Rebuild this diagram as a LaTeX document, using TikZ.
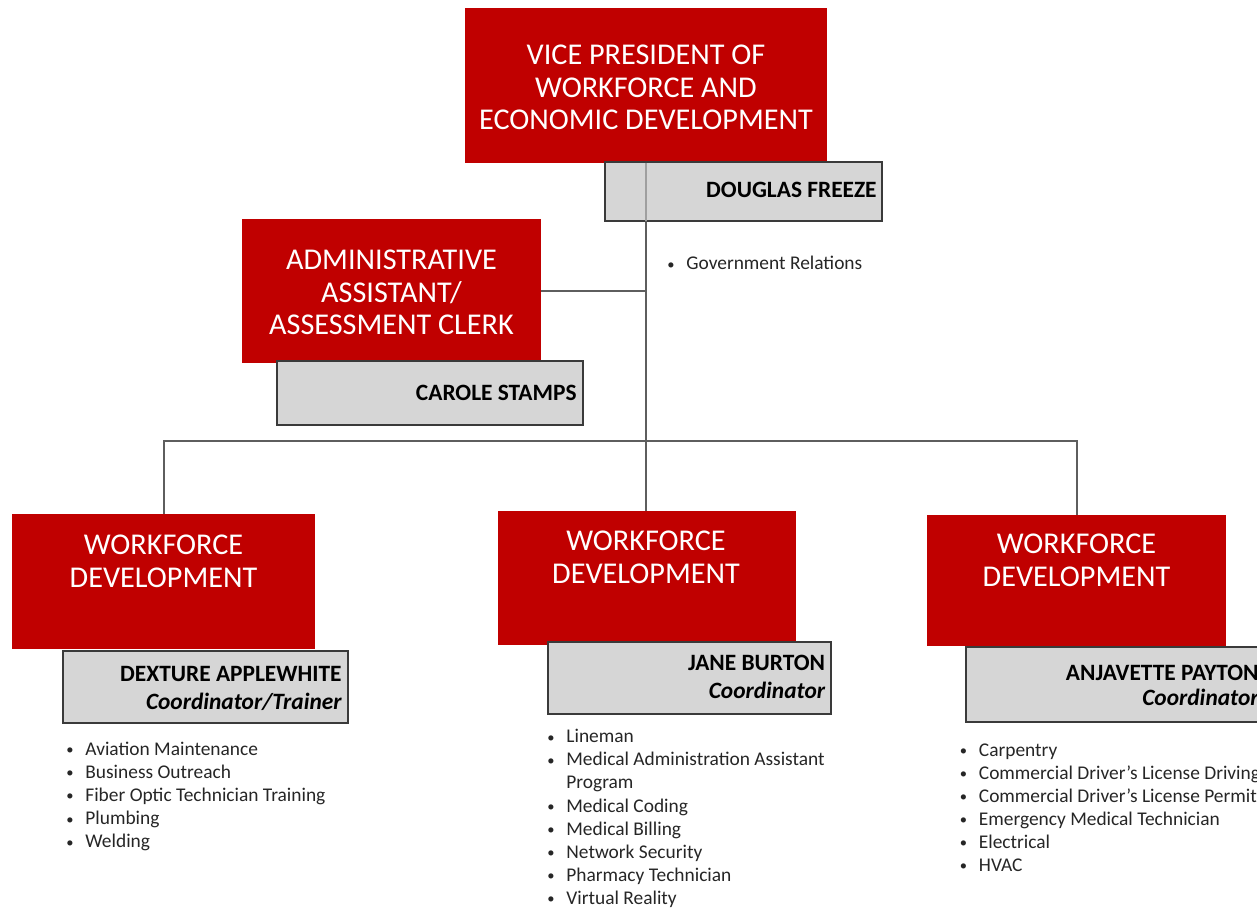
\documentclass[tikz,border=0pt]{standalone}
\usepackage{fontspec}
\setmainfont{Carlito}
\definecolor{vpred}{HTML}{C00000}
\definecolor{namegray}{HTML}{D6D6D6}
\definecolor{edgegray}{HTML}{3A3A3A}
\definecolor{linegray}{HTML}{5E5E5E}
\newcommand{\blt}{\makebox[9.5pt][l]{\raisebox{0.3pt}{\scalebox{0.75}{\textbullet}}}}
\begin{document}
\begin{tikzpicture}[x=0.5pt,y=-0.5pt,
  redbox/.style={fill=vpred, draw=none, inner sep=0pt, outer sep=0pt},
  graybox/.style={fill=namegray, draw=edgegray, line width=0.8pt, inner sep=0pt, outer sep=0pt},
  redtxt/.style={text=white, align=center, inner sep=0pt, font=\fontsize{15.1}{16.4}\selectfont},
  nametxt/.style={anchor=base east, inner sep=0pt, font=\bfseries\fontsize{11.7}{14}\selectfont},
  roletxt/.style={anchor=base east, inner sep=0pt, font=\bfseries\itshape\fontsize{11.7}{14}\selectfont},
  item/.style={anchor=base west, inner sep=0pt, text=black!85, font=\fontsize{9.7}{11.6}\selectfont},
  conn/.style={draw=linegray, line width=1pt}]
\clip (0,0) rectangle (1257,909);
\fill[white] (0,0) rectangle (1257,909);

% red title boxes
\node[redbox, minimum width=181pt, minimum height=77.5pt] (vp) at (646,85.5) {};
\node[redbox, minimum width=149.5pt, minimum height=72pt] (admin) at (391.5,291) {};
\node[redbox, minimum width=151.5pt, minimum height=67.5pt] (wf1) at (163.5,581.5) {};
\node[redbox, minimum width=149pt, minimum height=67pt] (wf2) at (647,578) {};
\node[redbox, minimum width=149.5pt, minimum height=65.5pt] (wf3) at (1076.5,580.5) {};

% connectors
\coordinate (bus) at (646,441);
\draw[conn] (admin.east) -- (admin.east -| vp.south);
\draw[conn] (wf1.north) |- (bus) -| (wf3.north);
\draw[conn] (bus) -- (bus |- wf2.north);

% gray name boxes
\node[graybox, minimum width=138.5pt, minimum height=29.5pt] (douglas) at (743.5,191.5) {};
\node[graybox, minimum width=153pt, minimum height=32pt] (carole) at (430,393) {};
\node[graybox, minimum width=142.5pt, minimum height=36pt] (dex) at (205.5,687) {};
\node[graybox, minimum width=141.5pt, minimum height=36pt] (jane) at (689.5,678) {};
\node[graybox, minimum width=149pt, minimum height=37.5pt] (anj) at (1115,684.5) {};

\draw[conn, draw=gray!75] (vp.south) -- (vp.south |- douglas.south);
\draw[conn] (vp.south |- douglas.south) -- (bus);

% red box texts
\node[redtxt] (vpt) at (646,87.5) {VICE PRESIDENT OF\\WORKFORCE AND\\ECONOMIC DEVELOPMENT};
\node[redtxt] (admint) at (391.5,292.5) {ADMINISTRATIVE\\ASSISTANT/\\ASSESSMENT CLERK};
\node[redtxt] (wf1t) at (163.5,561) {WORKFORCE\\DEVELOPMENT};
\node[redtxt] (wf2t) at (646,557) {WORKFORCE\\DEVELOPMENT};
\node[redtxt] (wf3t) at (1076.5,560) {WORKFORCE\\DEVELOPMENT};

% names
\node[nametxt] (douglast) at (877,198) {DOUGLAS FREEZE};
\node[nametxt] (carolet) at (577,400) {CAROLE STAMPS};
\node[nametxt] (dext) at (342,681.7) {DEXTURE APPLEWHITE};
\node[roletxt] (dexr) at (342,709) {Coordinator/Trainer};
\node[nametxt] (janet) at (825.5,670.5) {JANE BURTON};
\node[roletxt] (janer) at (825.5,698.7) {Coordinator};
\node[nametxt] (anjt) at (1259,680) {ANJAVETTE PAYTON};
\node[roletxt] (anjr) at (1259,705) {Coordinator};

% bullet lists
\node[item] (gov) at (667,270) {\blt Government Relations};

\foreach \t [count=\i] in {Aviation Maintenance, Business Outreach, Fiber Optic Technician Training, Plumbing, Welding}
  \node[item] (da\i) at ({66},{755+23.2*(\i-1)}) {\blt\t};

\foreach \t/\b [count=\i] in {Lineman/1, Medical Administration Assistant/1, Program/0, Medical Coding/1, Medical Billing/1, Network Security/1, Pharmacy Technician/1, Virtual Reality/1}
  \node[item] (jb\i) at ({547},{742.7+23.1*(\i-1)}) {\ifnum\b=1 \blt\else\hspace*{9.5pt}\fi\t};

\foreach \t [count=\i] in {Carpentry, Commercial Driver’s License Driving, Commercial Driver’s License Permit, Emergency Medical Technician, Electrical, HVAC}
  \node[item] (ap\i) at ({959.5},{756.5+23.0*(\i-1)}) {\blt\t};
\end{tikzpicture}
\end{document}
